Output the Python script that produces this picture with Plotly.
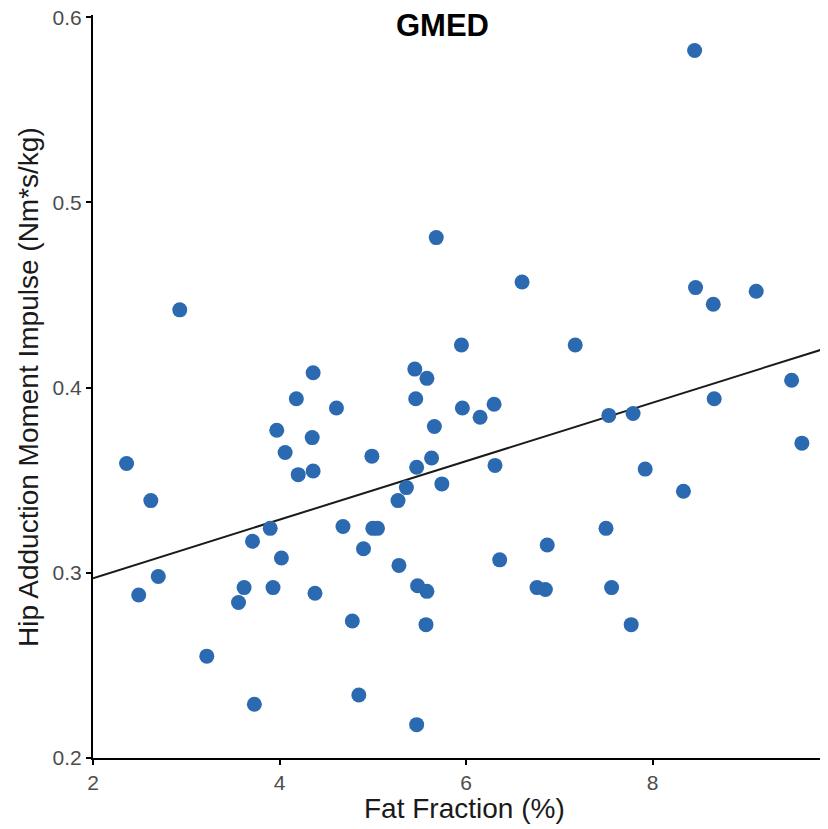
import plotly.graph_objects as go

fat_fraction = [2.36, 2.49, 2.62, 2.70, 2.93, 3.22, 3.56, 3.62, 3.71, 3.73, 3.90, 3.93, 3.97, 4.02,
                4.06, 4.18, 4.20, 4.35, 4.36, 4.36, 4.38, 4.61, 4.68, 4.78, 4.85, 4.90, 4.99, 5.00,
                5.05, 5.27, 5.28, 5.36, 5.45, 5.46, 5.47, 5.47, 5.48, 5.57, 5.58, 5.58, 5.63, 5.66,
                5.68, 5.74, 5.95, 5.96, 6.15, 6.30, 6.31, 6.36, 6.60, 6.76, 6.85, 6.87, 7.17, 7.50,
                7.53, 7.56, 7.77, 7.79, 7.92, 8.33, 8.45, 8.46, 8.65, 8.66, 9.11, 9.49, 9.60]
impulse = [0.359, 0.288, 0.339, 0.298, 0.442, 0.255, 0.284, 0.292, 0.317, 0.229, 0.324, 0.292, 0.377, 0.308,
           0.365, 0.394, 0.353, 0.373, 0.408, 0.355, 0.289, 0.389, 0.325, 0.274, 0.234, 0.313, 0.363, 0.324,
           0.324, 0.339, 0.304, 0.346, 0.410, 0.394, 0.357, 0.218, 0.293, 0.272, 0.290, 0.405, 0.362, 0.379,
           0.481, 0.348, 0.423, 0.389, 0.384, 0.391, 0.358, 0.307, 0.457, 0.292, 0.291, 0.315, 0.423, 0.324,
           0.385, 0.292, 0.272, 0.386, 0.356, 0.344, 0.582, 0.454, 0.445, 0.394, 0.452, 0.404, 0.370]

fit_intercept = 0.2655
fit_slope = 0.0158
x_range = [2.0, 9.88]
y_range = [0.2, 0.6012]
x_ticks = [2, 4, 6, 8]
y_ticks = [0.2, 0.3, 0.4, 0.5, 0.6]
y_tick_text = ["0.2", "0.3", "0.4", "0.5", "0.6"]

fit_x = x_range
fit_y = [fit_intercept + fit_slope * v for v in fit_x]

fig = go.Figure()
fig.add_trace(go.Scatter(x=fit_x, y=fit_y, mode="lines",
                         line=dict(color="#1a1a1a", width=2), showlegend=False, hoverinfo="skip"))
fig.add_trace(go.Scatter(x=fat_fraction, y=impulse, mode="markers",
                         marker=dict(size=15, color="#2b6ab0", line=dict(width=0)),
                         showlegend=False, cliponaxis=False))

font_family = "Liberation Sans, Arial, sans-serif"
OFF = 8  # page body margin
W, H = 828 - OFF, 829 - OFF
L, R, T, B = 93 - OFF, 0, 15 - OFF, 71
pw, ph = W - L - R, H - T - B


def px_x(v):
    return (v - OFF - L) / pw


def px_y(v):
    return (H - B - (v - OFF)) / ph


fig.update_layout(
    width=W, height=H,
    margin=dict(l=L, r=R, t=T, b=B),
    plot_bgcolor="white", paper_bgcolor="white",
    font=dict(family=font_family, color="#000000"),
    annotations=[
        dict(text="<b>GMED</b>", x=px_x(442), xref="paper", y=px_y(25), yref="paper",
             xanchor="center", yanchor="middle", showarrow=False,
             font=dict(size=31, color="#000000", family=font_family)),
        dict(text="Fat Fraction (%)", x=px_x(464), xref="paper", y=px_y(808), yref="paper",
             xanchor="center", yanchor="middle", showarrow=False,
             font=dict(size=28, color="#1a1a1a", family=font_family)),
        dict(text="Hip Adduction Moment Impulse (Nm*s/kg)", x=px_x(29), xref="paper",
             y=px_y(387), yref="paper", textangle=-90,
             xanchor="center", yanchor="middle", showarrow=False,
             font=dict(size=28, color="#1a1a1a", family=font_family)),
    ],
)

fig.update_xaxes(range=x_range, tickvals=x_ticks, ticktext=[str(t) for t in x_ticks],
                 showgrid=False, zeroline=False, showline=True, linecolor="#000000", linewidth=2,
                 ticks="outside", ticklen=5, tickwidth=1.5, tickcolor="#000000", automargin=False,
                 ticklabeloverflow="allow", tickfont=dict(size=21, color="#4d4d4d"))
fig.update_yaxes(range=y_range, tickvals=y_ticks, ticktext=y_tick_text,
                 showgrid=False, zeroline=False, showline=True, linecolor="#000000", linewidth=2,
                 ticks="outside", ticklen=5, tickwidth=1.5, tickcolor="#000000", automargin=False,
                 ticklabeloverflow="allow", tickfont=dict(size=21, color="#4d4d4d"))

fig.write_html("out.html")
